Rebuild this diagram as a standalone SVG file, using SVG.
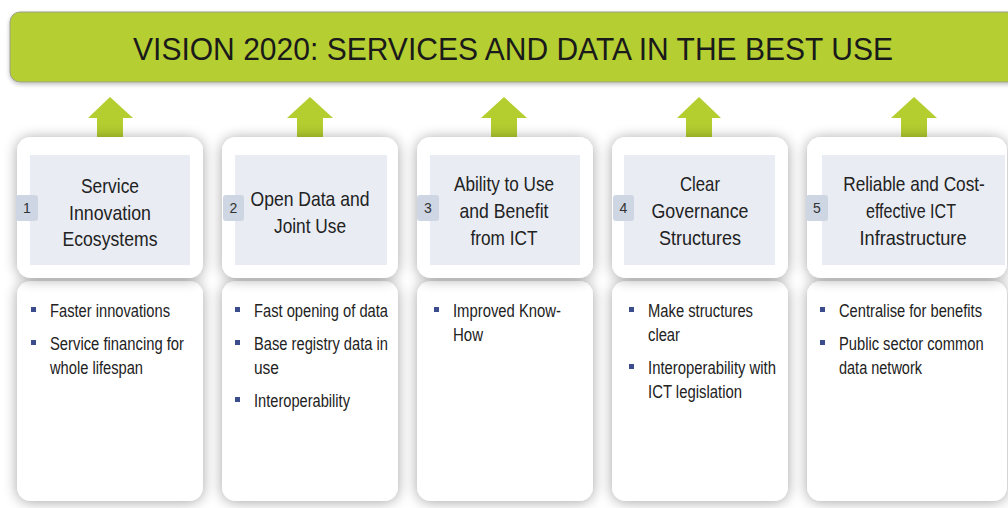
<svg xmlns="http://www.w3.org/2000/svg" width="1008" height="508" viewBox="0 0 1008 508">
<style>
.ttl{font-family:"Liberation Sans",Arial,sans-serif;font-size:31px;fill:#1a1a1a}
.hd{font-family:"Liberation Sans",Arial,sans-serif;font-size:21px;fill:#222;text-anchor:middle}
.bl{font-family:"Liberation Sans",Arial,sans-serif;font-size:17.500px;fill:#222}
.num{font-family:"Liberation Sans",Arial,sans-serif;font-size:14px;fill:#333;text-anchor:middle}
.card{fill:#fff;filter:url(#sh)}
.panel{fill:#e9ecf3}
.badge{fill:#cdd6e2}
.bul{fill:#3b4d8c}
.arr{fill:#b4cd2f}
</style>
<defs>
<filter id="sh" x="-20%" y="-20%" width="140%" height="140%">
<feGaussianBlur in="SourceAlpha" stdDeviation="7"/>
<feOffset dx="0" dy="1" result="b"/>
<feComponentTransfer><feFuncA type="linear" slope="0.36"/></feComponentTransfer>
<feMerge><feMergeNode/><feMergeNode in="SourceGraphic"/></feMerge>
</filter>
<filter id="bsh" x="-5%" y="-20%" width="110%" height="150%">
<feGaussianBlur in="SourceAlpha" stdDeviation="2"/>
<feOffset dx="0" dy="2"/>
<feComponentTransfer><feFuncA type="linear" slope="0.25"/></feComponentTransfer>
<feMerge><feMergeNode/><feMergeNode in="SourceGraphic"/></feMerge>
</filter>
</defs>
<rect width="1008" height="508" fill="#fff"/>
<g id="banner">
<rect x="10" y="12" width="1020" height="70" rx="10" fill="#b5cf31" stroke="#9aa08a" stroke-width="1" filter="url(#bsh)"/>
<text class="ttl" x="133" y="60" textLength="760" lengthAdjust="spacingAndGlyphs">VISION 2020: SERVICES AND DATA IN THE BEST USE</text>
</g>
<g id="connectors">
<path class="arr" d="M88,118 L110,97 L133,118 L123,118 L123,142 L97,142 L97,118 Z"/>
<path class="arr" d="M287,118 L310,97 L333,118 L323,118 L323,142 L297,142 L297,118 Z"/>
<path class="arr" d="M481,118 L504,97 L527,118 L517,118 L517,142 L491,142 L491,118 Z"/>
<path class="arr" d="M677,118 L699,97 L721,118 L712,118 L712,142 L686,142 L686,118 Z"/>
<path class="arr" d="M891,118 L914,97 L937,118 L927,118 L927,142 L901,142 L901,118 Z"/>
</g>
<g id="card1">
<rect class="card" x="17" y="281" width="186" height="220" rx="14"/>
<rect class="card" x="17" y="137" width="186" height="141" rx="14"/>
<rect class="panel" x="30" y="155" width="160" height="110"/>
<rect class="badge" x="16" y="195" width="22" height="26" rx="3"/>
<text class="num" x="27" y="213">1</text>
<text class="hd" x="110" y="193" textLength="58" lengthAdjust="spacingAndGlyphs">Service</text>
<text class="hd" x="110" y="220" textLength="82" lengthAdjust="spacingAndGlyphs">Innovation</text>
<text class="hd" x="110" y="246" textLength="95" lengthAdjust="spacingAndGlyphs">Ecosystems</text>
<rect class="bul" x="31" y="307" width="5" height="5"/>
<text class="bl" x="50" y="317" textLength="120" lengthAdjust="spacingAndGlyphs">Faster innovations</text>
<rect class="bul" x="31" y="340" width="5" height="5"/>
<text class="bl" x="50" y="350" textLength="134" lengthAdjust="spacingAndGlyphs">Service financing for</text>
<text class="bl" x="50" y="374" textLength="93" lengthAdjust="spacingAndGlyphs">whole lifespan</text>
</g>
<g id="card2">
<rect class="card" x="222" y="281" width="176" height="220" rx="14"/>
<rect class="card" x="222" y="137" width="176" height="141" rx="14"/>
<rect class="panel" x="235" y="155" width="152" height="110"/>
<rect class="badge" x="223" y="195" width="21" height="26" rx="3"/>
<text class="num" x="233.500" y="213">2</text>
<text class="hd" x="310" y="206" textLength="119" lengthAdjust="spacingAndGlyphs">Open Data and</text>
<text class="hd" x="310" y="233" textLength="72" lengthAdjust="spacingAndGlyphs">Joint Use</text>
<rect class="bul" x="235" y="307" width="5" height="5"/>
<text class="bl" x="254" y="317" textLength="134" lengthAdjust="spacingAndGlyphs">Fast opening of data</text>
<rect class="bul" x="235" y="340" width="5" height="5"/>
<text class="bl" x="254" y="350" textLength="134" lengthAdjust="spacingAndGlyphs">Base registry data in</text>
<text class="bl" x="254" y="374" textLength="25" lengthAdjust="spacingAndGlyphs">use</text>
<rect class="bul" x="235" y="397" width="5" height="5"/>
<text class="bl" x="254" y="407" textLength="96" lengthAdjust="spacingAndGlyphs">Interoperability</text>
</g>
<g id="card3">
<rect class="card" x="417" y="281" width="176" height="220" rx="14"/>
<rect class="card" x="417" y="137" width="176" height="141" rx="14"/>
<rect class="panel" x="430" y="155" width="150" height="110"/>
<rect class="badge" x="417" y="195" width="22" height="26" rx="3"/>
<text class="num" x="428" y="213">3</text>
<text class="hd" x="504" y="191" textLength="100" lengthAdjust="spacingAndGlyphs">Ability to Use</text>
<text class="hd" x="504" y="218" textLength="89" lengthAdjust="spacingAndGlyphs">and Benefit</text>
<text class="hd" x="504" y="245" textLength="67" lengthAdjust="spacingAndGlyphs">from ICT</text>
<rect class="bul" x="434" y="307" width="5" height="5"/>
<text class="bl" x="453" y="317" textLength="108" lengthAdjust="spacingAndGlyphs">Improved Know-</text>
<text class="bl" x="453" y="341" textLength="30" lengthAdjust="spacingAndGlyphs">How</text>
</g>
<g id="card4">
<rect class="card" x="612" y="281" width="176" height="220" rx="14"/>
<rect class="card" x="612" y="137" width="176" height="141" rx="14"/>
<rect class="panel" x="624" y="155" width="151" height="110"/>
<rect class="badge" x="613" y="195" width="21" height="26" rx="3"/>
<text class="num" x="623.500" y="213">4</text>
<text class="hd" x="700" y="191" textLength="40" lengthAdjust="spacingAndGlyphs">Clear</text>
<text class="hd" x="700" y="218" textLength="97" lengthAdjust="spacingAndGlyphs">Governance</text>
<text class="hd" x="700" y="245" textLength="82" lengthAdjust="spacingAndGlyphs">Structures</text>
<rect class="bul" x="629" y="307" width="5" height="5"/>
<text class="bl" x="648" y="317" textLength="105" lengthAdjust="spacingAndGlyphs">Make structures</text>
<text class="bl" x="648" y="341" textLength="32" lengthAdjust="spacingAndGlyphs">clear</text>
<rect class="bul" x="629" y="364" width="5" height="5"/>
<text class="bl" x="648" y="374" textLength="128" lengthAdjust="spacingAndGlyphs">Interoperability with</text>
<text class="bl" x="648" y="398" textLength="94" lengthAdjust="spacingAndGlyphs">ICT legislation</text>
</g>
<g id="card5">
<rect class="card" x="807" y="281" width="200" height="220" rx="14"/>
<rect class="card" x="807" y="137" width="200" height="141" rx="14"/>
<rect class="panel" x="822" y="155" width="183" height="110"/>
<rect class="badge" x="806" y="195" width="22" height="26" rx="3"/>
<text class="num" x="817" y="213">5</text>
<text class="hd" transform="translate(914,191) scale(0.82,1)" x="0" y="0">Reliable and Cost-</text>
<text class="hd" x="911" y="218" textLength="90" lengthAdjust="spacingAndGlyphs">effective ICT</text>
<text class="hd" x="913" y="245" textLength="107" lengthAdjust="spacingAndGlyphs">Infrastructure</text>
<rect class="bul" x="820" y="307" width="5" height="5"/>
<text class="bl" x="839" y="317" textLength="143" lengthAdjust="spacingAndGlyphs">Centralise for benefits</text>
<rect class="bul" x="820" y="340" width="5" height="5"/>
<text class="bl" transform="translate(839,350) scale(0.84,1)" x="0" y="0">Public sector common</text>
<text class="bl" x="839" y="374" textLength="83" lengthAdjust="spacingAndGlyphs">data network</text>
</g>
</svg>
